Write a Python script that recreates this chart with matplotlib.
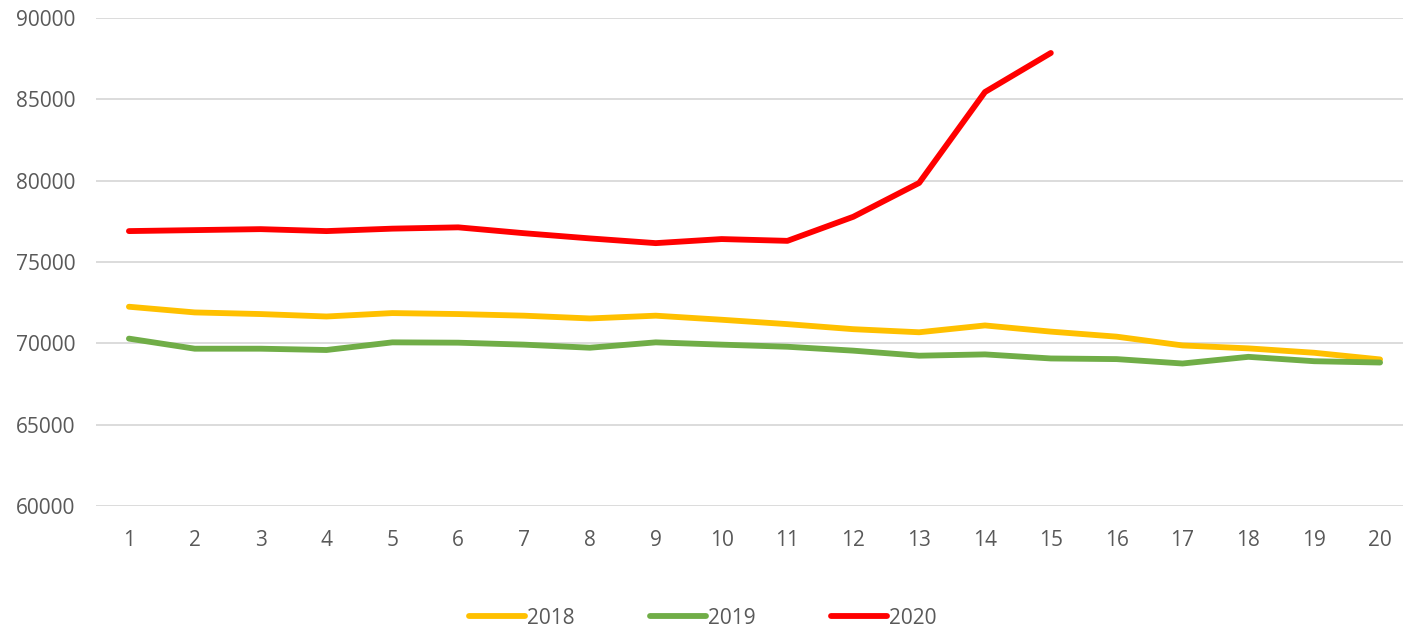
import matplotlib.pyplot as plt
import matplotlib.ticker as mticker

plt.rcParams['font.family'] = ['Open Sans', 'DejaVu Sans']

weeks = list(range(1, 21))
y2018 = [72250, 71900, 71800, 71650, 71860, 71800, 71700, 71530, 71700, 71450,
         71180, 70870, 70680, 71100, 70720, 70410, 69870, 69690, 69420, 69010]
y2019 = [70290, 69670, 69670, 69590, 70060, 70040, 69920, 69730, 70060, 69920,
         69790, 69550, 69240, 69320, 69070, 69030, 68760, 69170, 68900, 68820]
y2020 = [76900, 76960, 77020, 76900, 77050, 77130, 76770, 76450, 76160, 76410,
         76300, 77780, 79860, 85450, 87850]

series = [('2018', y2018, '#FFC000'), ('2019', y2019, '#70AD47'), ('2020', y2020, '#FF0000')]

W, H = 1403, 627
fig = plt.figure(figsize=(W / 100, H / 100), dpi=100)
# the plot area runs past the right edge, as in the cropped original
ax = fig.add_axes([96 / W, 1 - 506 / H, 1317 / W, 488 / H])

for name, vals, col in series:
    ax.plot(weeks[:len(vals)], vals, color=col, lw=4.2, label=name,
            solid_capstyle='round', solid_joinstyle='round', zorder=3)

ax.set_xlim(0.5, 20.5)
ax.set_ylim(60000, 90000)
ax.yaxis.set_major_locator(mticker.MultipleLocator(5000))
ax.set_xticks(weeks)
ax.grid(axis='y', color='#D9D9D9', lw=1.3)
ax.set_axisbelow(True)
for s in ax.spines.values():
    s.set_visible(False)
ax.tick_params(length=0, labelsize=15, labelcolor='#595959')
ax.tick_params(axis='y', pad=15)
ax.tick_params(axis='x', pad=17.5)

fig.legend(loc='center', bbox_to_anchor=(703 / W, 1 - 618 / H), ncol=3, frameon=False,
           fontsize=15, labelcolor='#595959', handlelength=2.7, handletextpad=0.1,
           columnspacing=3.6)

fig.savefig('out.png', dpi=100)
